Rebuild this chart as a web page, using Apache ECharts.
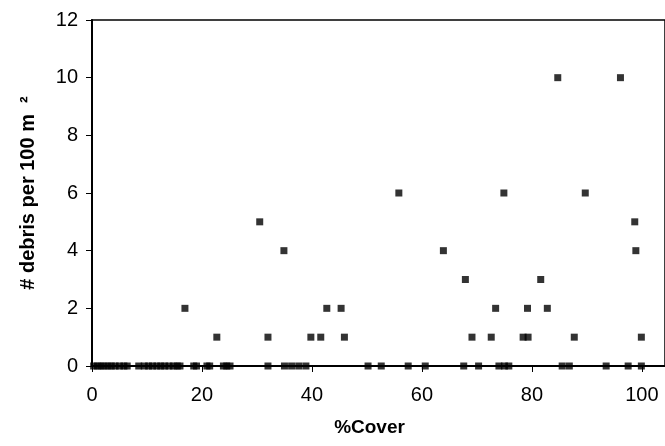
<!DOCTYPE html>
<html>
<head>
<meta charset="utf-8">
<script src="https://cdn.jsdelivr.net/npm/echarts@6/dist/echarts.min.js"></script>
<style>html,body{margin:0;padding:0;background:#fff}#c{width:665px;height:446px}</style>
</head>
<body>
<div id="c"></div>
<script>
// % cover values
var coverValues = [0.3, 1, 1.6, 2.2, 2.9, 3.5, 4.2, 5, 5.8, 6.4,
  8.5, 9.5, 10.3, 11, 11.8, 12.5, 13.2, 14, 14.8, 15.5, 16,
  18.5, 19, 20.9, 21.4, 23.9, 24.5, 25.1, 32, 35, 36.3, 37.6, 38.9, 50.2,
  52.6, 57.5, 60.6, 67.6, 70.3, 74, 75, 75.8, 85.5, 86.8, 93.5, 97.5, 99.9,
  16.9, 22.7, 30.5, 32.0, 34.9, 39.8, 41.6, 42.7, 45.3, 45.9,
  55.8, 63.9, 67.9, 69.1, 72.6, 73.4, 74.9, 78.4, 79.2, 79.3, 81.6, 82.8,
  84.7, 87.7, 89.7, 96.1, 98.7, 98.9, 99.9];
// debris per 100 m2
var debrisValues = [0, 0, 0, 0, 0, 0, 0, 0, 0, 0,
  0, 0, 0, 0, 0, 0, 0, 0, 0, 0, 0,
  0, 0, 0, 0, 0, 0, 0, 0, 0, 0, 0, 0, 0,
  0, 0, 0, 0, 0, 0, 0, 0, 0, 0, 0, 0, 0,
  2, 1, 5, 1, 4, 1, 1, 2, 2, 1,
  6, 4, 3, 1, 1, 2, 6, 1, 2, 1, 3, 2,
  10, 1, 6, 10, 5, 4, 1];
var xTicks = [0, 20, 40, 60, 80, 100];
var yTicks = [0, 2, 4, 6, 8, 10, 12];

var points = coverValues.map(function (x, i) { return [x, debrisValues[i]]; });
var font = 'Liberation Sans, Arial, sans-serif';
var chart = echarts.init(document.getElementById('c'), null, {renderer: 'canvas'});
chart.setOption({
  animation: false,
  grid: {left: 92, right: -2, top: 20, bottom: 80, show: true, borderColor: '#000', borderWidth: 1.5, backgroundColor: 'transparent'},
  xAxis: {
    type: 'value', min: 0, max: 104.2, interval: 20,
    name: '%Cover', nameLocation: 'middle', nameGap: 52,
    nameTextStyle: {fontFamily: font, fontSize: 19, fontWeight: 'bold', color: '#000', padding: [0, 18, 0, 0]},
    axisLine: {show: true, onZero: false, lineStyle: {color: '#000', width: 2}},
    axisTick: {show: true, inside: false, length: 6, lineStyle: {color: '#000'}},
    axisLabel: {fontFamily: font, fontSize: 20, color: '#000', margin: 19, showMaxLabel: false,
      formatter: function (v) { return xTicks.indexOf(v) >= 0 ? String(v) : ''; }},
    splitLine: {show: false}
  },
  yAxis: {
    type: 'value', min: 0, max: 12, interval: 2,
    name: '# debris per 100 m  \u00B2', nameLocation: 'middle', nameGap: 54, nameRotate: 90,
    nameTextStyle: {fontFamily: font, fontSize: 20, fontWeight: 'bold', color: '#000'},
    axisLine: {show: true, lineStyle: {color: '#000', width: 2}},
    axisTick: {show: true, inside: false, length: 6, lineStyle: {color: '#000'}},
    axisLabel: {fontFamily: font, fontSize: 20, color: '#000', margin: 14,
      formatter: function (v) { return yTicks.indexOf(v) >= 0 ? String(v) : ''; }},
    splitLine: {show: false}
  },
  series: [{
    type: 'scatter', data: points, symbol: 'rect', symbolSize: 7,
    itemStyle: {color: '#000'}, clip: false
  }]
});
</script>
</body>
</html>
